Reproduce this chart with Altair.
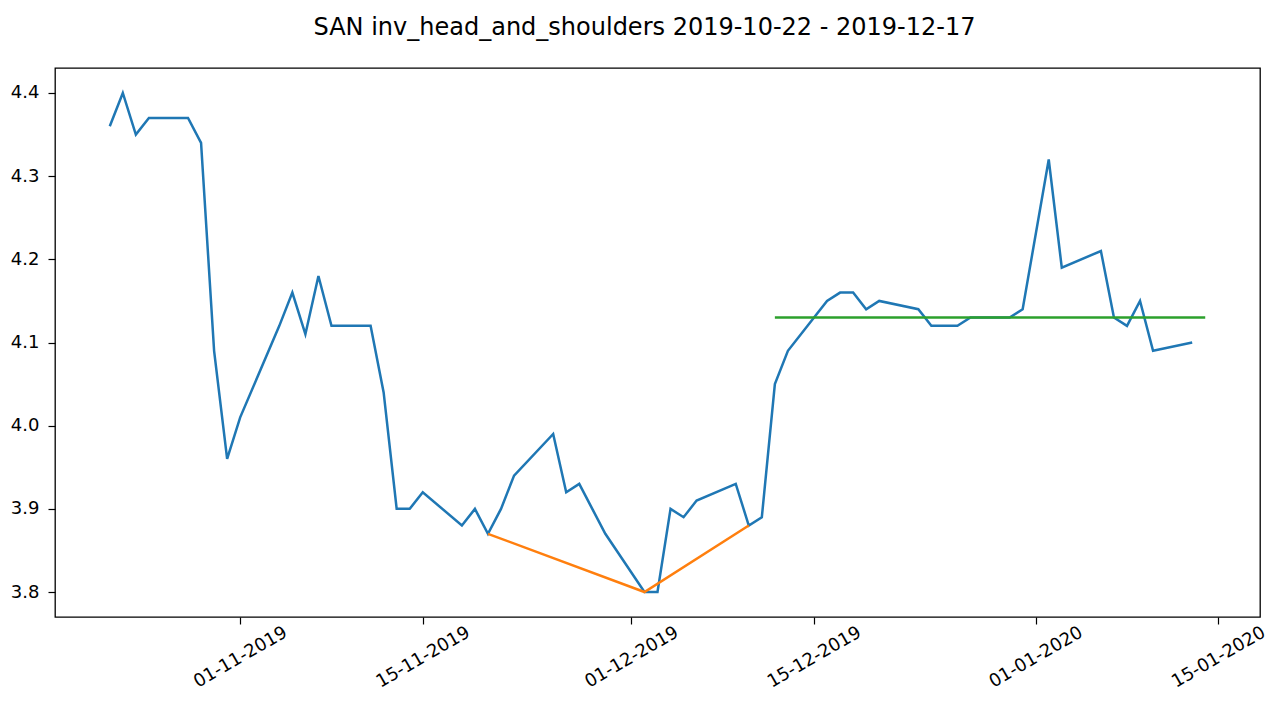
import altair as alt
import pandas as pd

# ---- data ----
dates = ["2019-10-22", "2019-10-23", "2019-10-24", "2019-10-25", "2019-10-28", "2019-10-29",
         "2019-10-30", "2019-10-31", "2019-11-01", "2019-11-04", "2019-11-05", "2019-11-06",
         "2019-11-07", "2019-11-08", "2019-11-11", "2019-11-12", "2019-11-13", "2019-11-14",
         "2019-11-15", "2019-11-18", "2019-11-19", "2019-11-20", "2019-11-21", "2019-11-22",
         "2019-11-25", "2019-11-26", "2019-11-27", "2019-11-28", "2019-11-29", "2019-12-02",
         "2019-12-03", "2019-12-04", "2019-12-05", "2019-12-06", "2019-12-09", "2019-12-10",
         "2019-12-11", "2019-12-12", "2019-12-13", "2019-12-16", "2019-12-17", "2019-12-18",
         "2019-12-19", "2019-12-20", "2019-12-23", "2019-12-24", "2019-12-26", "2019-12-27",
         "2019-12-30", "2019-12-31", "2020-01-02", "2020-01-03", "2020-01-06", "2020-01-07",
         "2020-01-08", "2020-01-09", "2020-01-10", "2020-01-13"]
close = [4.36, 4.40, 4.35, 4.37, 4.37, 4.34, 4.09, 3.96, 4.01, 4.12, 4.16, 4.11,
         4.18, 4.12, 4.12, 4.04, 3.90, 3.90, 3.92, 3.88, 3.90, 3.87, 3.90, 3.94,
         3.99, 3.92, 3.93, 3.90, 3.87, 3.80, 3.80, 3.90, 3.89, 3.91, 3.93, 3.88,
         3.89, 4.05, 4.09, 4.15, 4.16, 4.16, 4.14, 4.15, 4.14, 4.12, 4.12, 4.13,
         4.13, 4.14, 4.32, 4.19, 4.21, 4.13, 4.12, 4.15, 4.09, 4.10]

pattern_dates = ["2019-11-20", "2019-12-02", "2019-12-10"]
pattern_values = [3.87, 3.80, 3.88]

neck_dates = ["2019-12-12", "2020-01-14"]
neck_values = [4.13, 4.13]

y_ticks = [3.8, 3.9, 4.0, 4.1, 4.2, 4.3, 4.4]
x_ticks = [(2019, 11, 1), (2019, 11, 15), (2019, 12, 1), (2019, 12, 15), (2020, 1, 1), (2020, 1, 15)]

title_text = "SAN inv_head_and_shoulders 2019-10-22 - 2019-12-17"

# ---- tables ----
df_price = pd.DataFrame({"date": dates, "value": close})
df_pattern = pd.DataFrame({"date": pattern_dates, "value": pattern_values})
df_neck = pd.DataFrame({"date": neck_dates, "value": neck_values})

FONT = "DejaVu Sans"

x_scale = alt.Scale(
    type="utc",
    domain=[alt.DateTime(year=2019, month=10, date=17, hours=19, minutes=12, utc=True),
            alt.DateTime(year=2020, month=1, date=18, hours=4, minutes=48, utc=True)],
)
y_scale = alt.Scale(domain=[3.77, 4.43], nice=False, zero=False)

x_axis = alt.Axis(
    title=None,
    values=[alt.DateTime(year=y, month=m, date=d, utc=True) for (y, m, d) in x_ticks],
    format="%d-%m-%Y",
    labelAngle=-30,
    labelAlign="center",
    labelBaseline="middle",
    labelPadding=33,
    labelFontSize=18,
    labelFont=FONT,
    labelColor="black",
    labelOverlap=False,
    labelFlush=False,
    tickSize=7,
    tickColor="black",
    tickWidth=1.2,
    domain=False,
    grid=False,
)
y_axis = alt.Axis(
    title=None,
    values=y_ticks,
    format=".1f",
    labelPadding=9,
    labelFontSize=18,
    labelFont=FONT,
    labelColor="black",
    tickSize=7,
    tickColor="black",
    tickWidth=1.2,
    domain=False,
    grid=False,
)

price = alt.Chart(df_price).mark_line(color="#1f77b4", strokeWidth=2.5).encode(
    x=alt.X("date:T", scale=x_scale, axis=x_axis),
    y=alt.Y("value:Q", scale=y_scale, axis=y_axis),
)
pattern = alt.Chart(df_pattern).mark_line(color="#ff7f0e", strokeWidth=2.5).encode(
    x=alt.X("date:T", scale=x_scale),
    y=alt.Y("value:Q", scale=y_scale),
)
neck = alt.Chart(df_neck).mark_line(color="#2ca02c", strokeWidth=2.5).encode(
    x=alt.X("date:T", scale=x_scale),
    y=alt.Y("value:Q", scale=y_scale),
)

chart = (
    alt.layer(price, pattern, neck)
    .properties(
        width=1205,
        height=549,
        autosize=alt.AutoSizeParams(type="none"),
        padding={"left": 47, "top": 60, "right": 9, "bottom": 80},
        title=alt.TitleParams(
            text=title_text,
            font=FONT,
            fontSize=24,
            fontWeight="normal",
            color="black",
            anchor="middle",
            dx=-13,
            dy=2,
            offset=30,
        ),
    )
    .configure(background="white")
    .configure_view(stroke="black", strokeWidth=1.3)
)

chart.save("out.html", embed_options={"renderer": "svg", "actions": False})
